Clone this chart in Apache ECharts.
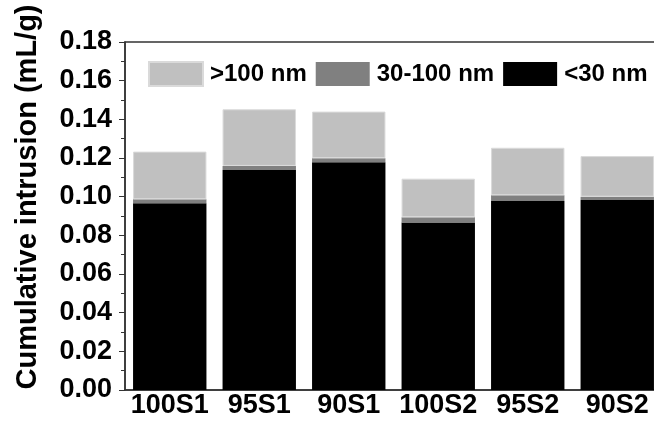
<!DOCTYPE html>
<html>
<head>
<meta charset="utf-8">
<script src="https://cdn.jsdelivr.net/npm/echarts@6/dist/echarts.min.js"></script>
<style>
  html, body { margin: 0; padding: 0; background: #fff; overflow: hidden; }
  /* plot box runs past the right edge, as in the original figure */
  #chart { width: 662px; height: 424px; }
</style>
</head>
<body>
<div id="chart"></div>
<script>
// samples
const categories = ['100S1', '95S1', '90S1', '100S2', '95S2', '90S2'];
// pore size segments (mL/g), stacked bottom to top
const below30 = [0.0966, 0.1138, 0.1178, 0.0867, 0.0978, 0.0983];
const from30to100 = [0.0020, 0.0021, 0.0021, 0.0026, 0.0029, 0.0017];
const above100 = [0.0247, 0.0293, 0.0241, 0.0200, 0.0246, 0.0210];

const font = 'Liberation Sans, Arial, sans-serif';
const chart = echarts.init(document.getElementById('chart'));

const option = {
  backgroundColor: '#ffffff',
  animation: false,
  grid: {
    left: 125, right: 0, top: 42, bottom: 34,
    show: true, borderColor: '#333', borderWidth: 1.5
  },
  legend: {
    data: ['>100 nm', '30-100 nm', '<30 nm'],
    left: 143, top: 56,
    itemWidth: 54, itemHeight: 24, itemGap: 9,
    icon: 'rect',
    textStyle: { fontFamily: font, fontWeight: 'bold', fontSize: 24, color: '#000', padding: [0, 0, 0, 2] }
  },
  xAxis: [{
    type: 'category',
    data: categories,
    position: 'bottom',
    axisLine: { lineStyle: { color: '#333', width: 1.5 } },
    axisTick: { alignWithLabel: true, length: 5, lineStyle: { color: '#333' } },
    axisLabel: { interval: 0, fontFamily: font, fontWeight: 'bold', fontSize: 27, color: '#000', margin: 2 }
  }, {
    // boundary ticks only
    type: 'category',
    data: categories,
    position: 'bottom',
    axisLine: { show: false },
    axisTick: { interval: 0, length: 3, lineStyle: { color: '#333' } },
    axisLabel: { show: false }
  }],
  yAxis: {
    type: 'value',
    min: 0, max: 0.18, interval: 0.02,
    axisLine: { show: true, lineStyle: { color: '#333', width: 1.5 } },
    axisTick: { show: true, length: 6, lineStyle: { color: '#333' } },
    minorTick: { show: true, splitNumber: 2, length: 4, lineStyle: { color: '#333' } },
    splitLine: { show: false },
    axisLabel: {
      fontFamily: font, fontWeight: 'bold', fontSize: 27, color: '#000', margin: 13,
      formatter: v => v.toFixed(2)
    }
  },
  graphic: [{
    type: 'text',
    x: 28, y: 197,
    rotation: Math.PI / 2,
    style: {
      text: 'Cumulative intrusion (mL/g)',
      fontFamily: font, fontWeight: 'bold', fontSize: 29, fill: '#000',
      align: 'center', verticalAlign: 'middle'
    }
  }],
  series: [{
    name: '<30 nm', type: 'bar', stack: 'total', data: below30,
    barCategoryGap: '18%',
    itemStyle: { color: '#000000' }
  }, {
    name: '30-100 nm', type: 'bar', stack: 'total', data: from30to100,
    itemStyle: { color: '#808080' }
  }, {
    name: '>100 nm', type: 'bar', stack: 'total', data: above100,
    itemStyle: { color: '#c0c0c0', borderColor: '#dadada', borderWidth: 1 }
  }]
};

chart.setOption(option);
</script>
</body>
</html>
